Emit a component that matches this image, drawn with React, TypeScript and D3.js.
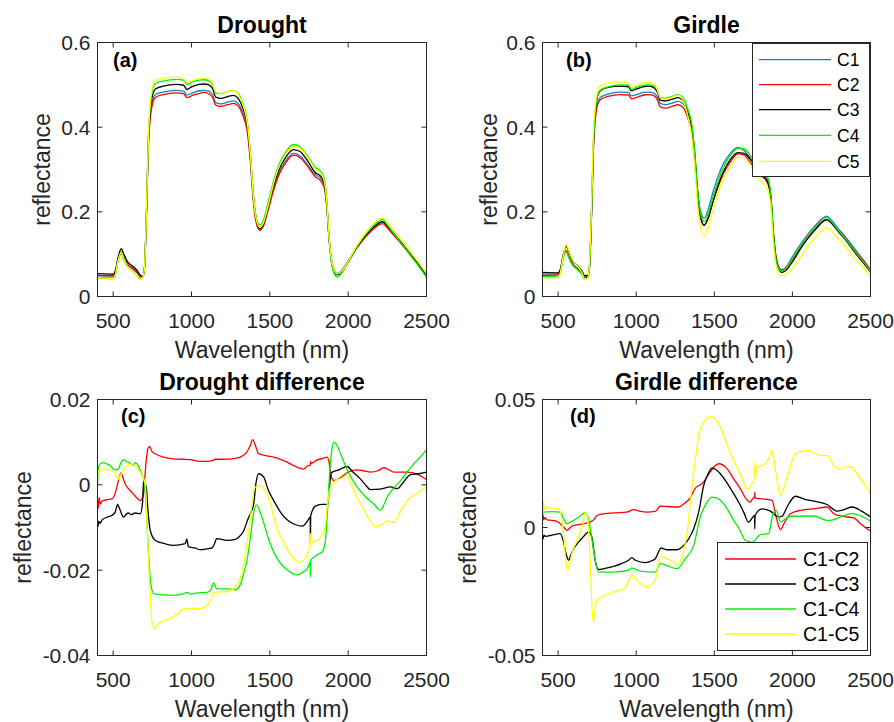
import React from "react";
import * as d3 from "d3";

const FONT = "'Liberation Sans', Arial, Helvetica, sans-serif";
const INK = "#262626";

type Pt = [number, number];

// ---------- data ----------
const wavelengths = [400,500,515,530,552,568,590,620,650,672,690,700,712,726,748,770,820,900,950,970,1000,1050,1080,1110,1135,1155,1190,1230,1268,1300,1330,1355,1375,1392,1410,1435,1460,1490,1525,1560,1600,1650,1690,1740,1790,1825,1848,1862,1878,1900,1930,1960,2000,2060,2140,2220,2250,2290,2340,2400,2450,2500];

const droughtC1 = [0.046,0.046,0.056,0.085,0.106,0.092,0.076,0.066,0.056,0.044,0.047,0.068,0.190,0.370,0.458,0.477,0.483,0.487,0.485,0.476,0.480,0.486,0.487,0.485,0.476,0.458,0.455,0.459,0.462,0.455,0.432,0.400,0.330,0.245,0.188,0.163,0.174,0.212,0.258,0.295,0.320,0.338,0.333,0.312,0.288,0.279,0.262,0.222,0.140,0.075,0.054,0.062,0.085,0.120,0.155,0.176,0.166,0.148,0.127,0.100,0.078,0.053];
const droughtC2 = [0.050,0.049,0.058,0.085,0.103,0.092,0.077,0.068,0.059,0.048,0.049,0.068,0.184,0.362,0.450,0.470,0.477,0.481,0.479,0.470,0.474,0.480,0.482,0.479,0.470,0.452,0.449,0.453,0.456,0.449,0.425,0.392,0.321,0.235,0.179,0.156,0.167,0.205,0.252,0.289,0.315,0.334,0.329,0.308,0.283,0.273,0.256,0.216,0.135,0.073,0.053,0.060,0.082,0.117,0.152,0.172,0.162,0.145,0.124,0.097,0.076,0.052];
const droughtC3 = [0.054,0.053,0.062,0.090,0.113,0.100,0.083,0.073,0.063,0.051,0.047,0.068,0.192,0.379,0.470,0.490,0.497,0.501,0.499,0.489,0.495,0.501,0.502,0.500,0.491,0.471,0.468,0.472,0.475,0.467,0.443,0.408,0.336,0.250,0.189,0.160,0.172,0.213,0.262,0.301,0.328,0.347,0.343,0.321,0.293,0.284,0.267,0.227,0.140,0.072,0.051,0.058,0.081,0.119,0.156,0.177,0.167,0.149,0.127,0.098,0.075,0.050];
const droughtC4 = [0.044,0.042,0.052,0.081,0.101,0.086,0.071,0.061,0.051,0.041,0.046,0.068,0.196,0.386,0.482,0.503,0.509,0.513,0.511,0.501,0.506,0.511,0.512,0.510,0.500,0.481,0.479,0.484,0.487,0.479,0.453,0.417,0.343,0.254,0.193,0.169,0.181,0.224,0.274,0.313,0.340,0.359,0.354,0.332,0.305,0.295,0.277,0.236,0.137,0.066,0.046,0.056,0.082,0.121,0.159,0.182,0.169,0.149,0.126,0.096,0.072,0.045];
const droughtC5 = [0.044,0.043,0.053,0.083,0.104,0.089,0.072,0.061,0.052,0.041,0.046,0.068,0.196,0.387,0.489,0.511,0.515,0.518,0.514,0.505,0.509,0.515,0.516,0.513,0.503,0.483,0.480,0.484,0.486,0.477,0.451,0.413,0.338,0.248,0.189,0.163,0.175,0.215,0.268,0.308,0.335,0.355,0.351,0.329,0.301,0.291,0.272,0.229,0.142,0.076,0.053,0.060,0.083,0.123,0.163,0.186,0.175,0.157,0.134,0.104,0.080,0.054];

const girdleC1 = [0.053,0.053,0.062,0.090,0.108,0.094,0.078,0.068,0.058,0.046,0.048,0.065,0.170,0.350,0.450,0.470,0.478,0.483,0.482,0.474,0.477,0.482,0.483,0.481,0.472,0.456,0.453,0.457,0.461,0.455,0.432,0.400,0.335,0.255,0.205,0.185,0.205,0.245,0.285,0.315,0.337,0.352,0.345,0.322,0.298,0.288,0.272,0.240,0.155,0.085,0.062,0.070,0.094,0.128,0.165,0.190,0.180,0.162,0.141,0.112,0.088,0.062];
const girdleC2 = [0.050,0.051,0.060,0.089,0.109,0.095,0.078,0.067,0.057,0.044,0.046,0.063,0.168,0.347,0.446,0.465,0.473,0.477,0.476,0.467,0.470,0.476,0.477,0.475,0.465,0.448,0.445,0.449,0.453,0.446,0.422,0.387,0.320,0.239,0.188,0.168,0.186,0.223,0.260,0.291,0.316,0.337,0.334,0.312,0.287,0.277,0.261,0.229,0.146,0.081,0.063,0.067,0.088,0.121,0.158,0.182,0.174,0.157,0.137,0.109,0.087,0.063];
const girdleC3 = [0.057,0.056,0.065,0.095,0.119,0.107,0.086,0.074,0.062,0.049,0.050,0.068,0.175,0.361,0.466,0.486,0.494,0.497,0.495,0.486,0.490,0.496,0.497,0.494,0.483,0.464,0.462,0.466,0.470,0.462,0.436,0.402,0.335,0.251,0.196,0.168,0.184,0.222,0.264,0.296,0.322,0.340,0.338,0.320,0.291,0.281,0.265,0.234,0.150,0.081,0.057,0.062,0.082,0.117,0.155,0.181,0.173,0.155,0.134,0.104,0.081,0.058];
const girdleC4 = [0.047,0.047,0.057,0.086,0.106,0.092,0.075,0.064,0.053,0.040,0.044,0.064,0.174,0.359,0.467,0.487,0.495,0.500,0.499,0.490,0.494,0.499,0.500,0.498,0.488,0.470,0.468,0.473,0.477,0.469,0.443,0.409,0.339,0.254,0.201,0.177,0.195,0.233,0.274,0.306,0.332,0.350,0.349,0.328,0.302,0.291,0.274,0.239,0.149,0.079,0.060,0.067,0.090,0.124,0.161,0.187,0.177,0.158,0.136,0.107,0.084,0.060];
const girdleC5 = [0.044,0.046,0.057,0.090,0.123,0.109,0.088,0.073,0.059,0.040,0.044,0.073,0.190,0.387,0.478,0.497,0.504,0.507,0.504,0.493,0.498,0.505,0.506,0.503,0.490,0.468,0.466,0.471,0.475,0.463,0.427,0.380,0.307,0.220,0.166,0.143,0.162,0.202,0.245,0.279,0.304,0.329,0.328,0.305,0.274,0.263,0.245,0.211,0.127,0.066,0.049,0.052,0.067,0.098,0.137,0.162,0.155,0.138,0.117,0.090,0.069,0.049];

const droughtDiffC1C2: Pt[] = [[400,-0.004],[405,-0.0055],[410,-0.003],[418,-0.0045],[430,-0.0038],[460,-0.0035],[492,-0.0033],[513,-0.002],[530,0.0005],[549,0.0028],[560,0.002],[577,0.0002],[600,-0.001],[619,-0.0017],[650,-0.003],[673,-0.0037],[694,-0.002],[703,0.002],[711,0.0057],[722,0.0085],[732,0.009],[748,0.0078],[768,0.0073],[820,0.0065],[886,0.0061],[950,0.006],[992,0.0059],[1050,0.0055],[1099,0.0055],[1130,0.0056],[1152,0.006],[1200,0.006],[1260,0.0061],[1312,0.0065],[1354,0.0077],[1375,0.0092],[1390,0.0106],[1405,0.0095],[1429,0.0073],[1480,0.0068],[1525,0.0065],[1600,0.0055],[1652,0.0045],[1716,0.0037],[1745,0.0045],[1758,0.0045],[1759,0.0055],[1762,0.005],[1800,0.0058],[1840,0.0062],[1865,0.0065],[1876,0.0057],[1892,0.002],[1908,0.001],[1940,0.0014],[2000,0.003],[2057,0.0035],[2100,0.0033],[2142,0.003],[2190,0.0033],[2228,0.004],[2260,0.0035],[2291,0.003],[2377,0.003],[2440,0.0025],[2500,0.0012]];
const droughtDiffC1C3: Pt[] = [[400,-0.009],[403,-0.0098],[408,-0.0085],[415,-0.009],[430,-0.0082],[460,-0.0076],[490,-0.0072],[513,-0.0064],[528,-0.0046],[540,-0.0055],[566,-0.0076],[585,-0.0068],[598,-0.0066],[615,-0.007],[640,-0.0066],[673,-0.0068],[688,-0.004],[694,0.001],[700,0.0005],[711,-0.0005],[722,-0.006],[737,-0.0107],[768,-0.013],[830,-0.0138],[886,-0.0142],[960,-0.0138],[970,-0.0127],[980,-0.0145],[1020,-0.0148],[1056,-0.0152],[1100,-0.015],[1131,-0.0148],[1150,-0.0135],[1160,-0.0126],[1226,-0.013],[1280,-0.0128],[1301,-0.0123],[1330,-0.011],[1365,-0.0076],[1385,-0.006],[1397,-0.0045],[1412,0.0005],[1429,0.0026],[1461,0.0018],[1490,-0.0012],[1525,-0.0037],[1570,-0.0065],[1610,-0.0082],[1660,-0.0093],[1706,-0.0097],[1740,-0.0085],[1758,-0.0076],[1759,-0.0137],[1761,-0.0072],[1791,-0.005],[1830,-0.0046],[1870,-0.0046],[1882,0.0],[1891,0.0028],[1940,0.0035],[1993,0.0043],[2030,0.003],[2078,0.0014],[2110,0.0],[2142,-0.0011],[2200,-0.001],[2270,-0.0005],[2313,-0.0009],[2350,0.0005],[2398,0.0024],[2450,0.0026],[2500,0.003]];
const droughtDiffC1C4: Pt[] = [[400,0.0],[404,0.003],[410,0.0045],[420,0.005],[440,0.0052],[460,0.0049],[480,0.0045],[502,0.0037],[520,0.0035],[534,0.0038],[550,0.0052],[566,0.0059],[590,0.0054],[609,0.005],[625,0.0045],[641,0.0052],[660,0.0045],[673,0.0034],[690,0.0018],[698,0.001],[712,-0.006],[726,-0.0162],[740,-0.023],[758,-0.0255],[820,-0.0258],[886,-0.0259],[950,-0.0255],[975,-0.0252],[992,-0.0256],[1040,-0.0253],[1099,-0.0252],[1125,-0.0245],[1141,-0.023],[1160,-0.0243],[1184,-0.0244],[1240,-0.0244],[1280,-0.0246],[1310,-0.0235],[1333,-0.0208],[1355,-0.0175],[1376,-0.0123],[1395,-0.007],[1414,-0.0047],[1435,-0.006],[1450,-0.0076],[1490,-0.0125],[1525,-0.0158],[1570,-0.0185],[1610,-0.0199],[1674,-0.0211],[1710,-0.0205],[1738,-0.0197],[1758,-0.0181],[1759,-0.0216],[1761,-0.0178],[1780,-0.017],[1810,-0.0162],[1833,-0.0158],[1855,-0.013],[1870,-0.005],[1883,0.0034],[1895,0.008],[1908,0.01],[1925,0.0095],[1951,0.0073],[2000,0.003],[2057,-0.0005],[2110,-0.0028],[2164,-0.0045],[2206,-0.006],[2230,-0.0045],[2249,-0.0029],[2290,-0.0008],[2334,0.001],[2380,0.0032],[2419,0.0049],[2460,0.0065],[2500,0.0082]];
const droughtDiffC1C5: Pt[] = [[400,0.0018],[405,0.0034],[415,0.0032],[430,0.0038],[460,0.0037],[490,0.0033],[513,0.0026],[530,0.0012],[545,0.0022],[566,0.0034],[590,0.0045],[605,0.0048],[630,0.0045],[651,0.0041],[683,0.0022],[705,0.0002],[715,-0.008],[726,-0.0177],[747,-0.0318],[762,-0.0338],[780,-0.033],[800,-0.0322],[850,-0.0315],[886,-0.0309],[920,-0.03],[950,-0.0291],[1000,-0.029],[1056,-0.029],[1090,-0.0285],[1109,-0.0279],[1130,-0.0265],[1141,-0.0252],[1180,-0.0251],[1226,-0.025],[1280,-0.024],[1310,-0.022],[1333,-0.0185],[1355,-0.0135],[1376,-0.0076],[1395,-0.002],[1408,-0.0005],[1440,-0.0002],[1460,-0.0008],[1482,-0.0021],[1515,-0.006],[1546,-0.0103],[1580,-0.0128],[1610,-0.015],[1650,-0.0172],[1684,-0.0181],[1727,-0.0173],[1750,-0.0152],[1758,-0.0142],[1759,-0.0114],[1761,-0.0137],[1780,-0.0133],[1802,-0.013],[1830,-0.0118],[1850,-0.0103],[1870,-0.004],[1887,-0.0005],[1920,0.001],[1951,0.0014],[1993,0.0022],[2020,0.0],[2057,-0.0029],[2095,-0.0055],[2132,-0.008],[2174,-0.0099],[2205,-0.0095],[2249,-0.0084],[2270,-0.0087],[2291,-0.0088],[2330,-0.0065],[2377,-0.0037],[2440,-0.002],[2500,-0.0005]];

const girdleDiffC1C2: Pt[] = [[400,0.0034],[403,0.005],[408,0.003],[415,0.0038],[430,0.003],[460,0.0028],[492,0.0024],[535,0.0002],[556,-0.0011],[588,0.0005],[641,0.0012],[684,0.0018],[716,0.0025],[735,0.0035],[748,0.0047],[770,0.0051],[855,0.0057],[940,0.006],[983,0.007],[1020,0.0064],[1069,0.006],[1122,0.0063],[1154,0.0083],[1200,0.0082],[1271,0.008],[1310,0.0095],[1346,0.0116],[1380,0.0155],[1400,0.0164],[1421,0.0171],[1474,0.0217],[1500,0.0238],[1528,0.0249],[1581,0.023],[1624,0.019],[1667,0.0151],[1700,0.0115],[1726,0.0099],[1750,0.0115],[1758,0.0119],[1759,0.0138],[1761,0.0115],[1805,0.0112],[1870,0.0106],[1891,0.0054],[1923,-0.0008],[1950,0.002],[1987,0.0054],[2060,0.0068],[2137,0.0073],[2222,0.008],[2265,0.0054],[2310,0.0045],[2350,0.0041],[2393,0.0038],[2436,0.0015],[2500,-0.0014]];
const girdleDiffC1C3: Pt[] = [[400,-0.0037],[403,-0.0045],[410,-0.003],[420,-0.0035],[460,-0.003],[513,-0.0024],[535,-0.0057],[550,-0.01],[567,-0.0128],[580,-0.011],[599,-0.0083],[620,-0.0065],[641,-0.005],[670,-0.003],[695,-0.0018],[716,-0.0037],[737,-0.0128],[759,-0.0164],[800,-0.016],[855,-0.0152],[910,-0.014],[951,-0.0128],[972,-0.0118],[994,-0.0128],[1058,-0.0137],[1100,-0.013],[1122,-0.0122],[1140,-0.01],[1158,-0.008],[1197,-0.0087],[1261,-0.0087],[1290,-0.0078],[1314,-0.0063],[1340,-0.004],[1368,-0.0005],[1400,0.006],[1432,0.0164],[1460,0.021],[1485,0.0232],[1539,0.021],[1580,0.0175],[1624,0.0132],[1660,0.0095],[1688,0.006],[1720,0.0021],[1740,0.0035],[1758,0.0047],[1759,-0.0005],[1761,0.0047],[1805,0.0073],[1859,0.0064],[1912,0.0041],[1934,0.0044],[1970,0.0085],[2019,0.0122],[2080,0.011],[2137,0.0103],[2222,0.009],[2286,0.0064],[2330,0.007],[2382,0.008],[2440,0.0065],[2500,0.0041]];
const girdleDiffC1C4: Pt[] = [[400,0.006],[460,0.0062],[513,0.006],[535,0.0035],[556,0.0015],[599,0.0028],[641,0.0044],[673,0.0058],[695,0.0034],[710,-0.002],[727,-0.0089],[759,-0.0174],[855,-0.0174],[951,-0.0167],[972,-0.0159],[1026,-0.017],[1122,-0.0174],[1154,-0.0141],[1200,-0.015],[1261,-0.0161],[1314,-0.0122],[1368,-0.007],[1410,0.0041],[1450,0.0095],[1485,0.0119],[1539,0.0106],[1580,0.0075],[1624,0.0028],[1660,-0.0005],[1699,-0.005],[1742,-0.0057],[1795,-0.0028],[1848,-0.0024],[1876,0.0054],[1897,0.0067],[1923,0.0022],[1987,0.0044],[2137,0.0045],[2222,0.0028],[2260,0.003],[2308,0.0041],[2382,0.0054],[2440,0.0045],[2500,0.0025]];
const girdleDiffC1C5: Pt[] = [[400,0.0093],[403,0.006],[407,0.01],[412,0.007],[420,0.008],[449,0.0076],[480,0.0072],[502,0.0074],[535,-0.0024],[548,-0.012],[560,-0.0167],[575,-0.014],[588,-0.0102],[610,-0.0065],[630,-0.0037],[655,0.001],[673,0.0057],[688,0.0041],[705,-0.0128],[718,-0.032],[727,-0.0368],[738,-0.032],[748,-0.0284],[780,-0.0271],[855,-0.0252],[930,-0.0235],[955,-0.0205],[972,-0.0184],[1015,-0.0213],[1069,-0.0232],[1100,-0.022],[1122,-0.0206],[1154,-0.0115],[1218,-0.0128],[1271,-0.0144],[1300,-0.01],[1325,-0.0024],[1350,0.012],[1378,0.0262],[1410,0.0386],[1450,0.0425],[1481,0.0435],[1510,0.042],[1539,0.0392],[1592,0.0308],[1645,0.0236],[1680,0.019],[1709,0.0151],[1740,0.017],[1758,0.0197],[1759,0.0255],[1761,0.02],[1774,0.0236],[1827,0.0249],[1850,0.027],[1870,0.0301],[1885,0.025],[1902,0.0184],[1923,0.0125],[1966,0.0197],[2019,0.0288],[2094,0.0301],[2179,0.0281],[2222,0.0281],[2275,0.0236],[2320,0.0228],[2350,0.0238],[2380,0.0235],[2414,0.021],[2460,0.017],[2500,0.0132]];

const xTicks = [500, 1000, 1500, 2000, 2500];
const spectraYTicks = [0, 0.2, 0.4, 0.6];
const droughtDiffYTicks = [-0.04, -0.02, 0, 0.02];
const girdleDiffYTicks = [-0.05, 0, 0.05];
const classNames = ["C1", "C2", "C3", "C4", "C5"];
const diffNames = ["C1-C2", "C1-C3", "C1-C4", "C1-C5"];
const classColors = ["#1A80C8", "#FF0000", "#000000", "#00F000", "#FFFF00"];
const diffColors = ["#FF0000", "#000000", "#00F000", "#FFFF00"];

// ---------- components ----------
interface LineSpec { name: string; color: string; points: Pt[] }
interface LegendSpec { x: number; y: number; w: number; h: number; rowY: number[]; lineX0: number; lineX1: number; textX: number; fontSize: number; items: { name: string; color: string }[] }

function Panel(props: {
  id: string; left: number; right: number; top: number; bottom: number;
  yDomain: [number, number]; yTicks: number[]; lines: LineSpec[];
  title: string; tag: string; tagX: number; tagY: number; ylabelX: number;
  legend?: LegendSpec;
}) {
  const { left, right, top, bottom } = props;
  const x = d3.scaleLinear().domain([400, 2500]).range([left, right]);
  const y = d3.scaleLinear().domain(props.yDomain).range([bottom, top]);
  const line = d3.line<Pt>().x(d => x(d[0])).y(d => y(d[1])).curve(d3.curveMonotoneX);
  const cx = (left + right) / 2;
  const cy = (top + bottom) / 2;
  const tl = 5;
  const lg = props.legend;
  return (
    <g>
      <clipPath id={`clip-${props.id}`}>
        <rect x={left} y={top} width={right - left} height={bottom - top} />
      </clipPath>
      <g clipPath={`url(#clip-${props.id})`}>
        {props.lines.map(l => (
          <path key={l.name} d={line(l.points) || ""} fill="none" stroke={l.color} strokeWidth={1.3} strokeLinejoin="round" />
        ))}
      </g>
      <rect x={left} y={top} width={right - left} height={bottom - top} fill="none" stroke={INK} strokeWidth={1} />
      {xTicks.map(t => (
        <g key={`x${t}`}>
          <line x1={x(t)} x2={x(t)} y1={bottom} y2={bottom - tl} stroke={INK} />
          <line x1={x(t)} x2={x(t)} y1={top} y2={top + tl} stroke={INK} />
          <text x={x(t)} y={bottom + 31.5} textAnchor="middle" fontSize={21} fill={INK} fontFamily={FONT}>{t}</text>
        </g>
      ))}
      {props.yTicks.map(t => (
        <g key={`y${t}`}>
          <line x1={left} x2={left + tl} y1={y(t)} y2={y(t)} stroke={INK} />
          <line x1={right} x2={right - tl} y1={y(t)} y2={y(t)} stroke={INK} />
          <text x={left - 7} y={y(t) + 7.5} textAnchor="end" fontSize={21} fill={INK} fontFamily={FONT}>{String(t)}</text>
        </g>
      ))}
      <text x={cx} y={bottom + 61.5} textAnchor="middle" fontSize={23} fill={INK} fontFamily={FONT}>Wavelength (nm)</text>
      <text transform={`translate(${props.ylabelX},${cy}) rotate(-90)`} textAnchor="middle" fontSize={23} fill={INK} fontFamily={FONT}>reflectance</text>
      <text x={cx} y={top - 9.5} textAnchor="middle" fontSize={23} fontWeight="bold" fill="#000" fontFamily={FONT}>{props.title}</text>
      <text x={props.tagX} y={props.tagY} fontSize={20} fontWeight="bold" fill="#000" fontFamily={FONT}>{props.tag}</text>
      {lg && (
        <g>
          <rect x={lg.x} y={lg.y} width={lg.w} height={lg.h} fill="#fff" stroke={INK} strokeWidth={1} />
          {lg.items.map((it, i) => (
            <g key={it.name}>
              <line x1={lg.lineX0} x2={lg.lineX1} y1={lg.rowY[i]} y2={lg.rowY[i]} stroke={it.color} strokeWidth={1.3} />
              <text x={lg.textX} y={lg.rowY[i] + lg.fontSize * 0.36} fontSize={lg.fontSize} fill="#000" fontFamily={FONT}>{it.name}</text>
            </g>
          ))}
        </g>
      )}
    </g>
  );
}

export default function App() {
  const droughtSpectra = [droughtC1, droughtC2, droughtC3, droughtC4, droughtC5];
  const girdleSpectra = [girdleC1, girdleC2, girdleC3, girdleC4, girdleC5];
  const toLines = (sets: number[][]): LineSpec[] =>
    sets.map((vals, i) => ({ name: classNames[i], color: classColors[i], points: d3.zip(wavelengths, vals) as Pt[] }));
  const diffLines = (sets: Pt[][]): LineSpec[] =>
    sets.map((pts, i) => ({ name: diffNames[i], color: diffColors[i], points: pts }));

  return (
    <svg width={894} height={722} style={{ position: "absolute", left: 0, top: 0, background: "#fff" }}>
      <rect x={0} y={0} width={894} height={722} fill="#fff" />
      <Panel id="a" left={97.5} right={426.5} top={42.5} bottom={296.5} yDomain={[0, 0.6]} yTicks={spectraYTicks}
        lines={toLines(droughtSpectra)} title="Drought" tag="(a)" tagX={113} tagY={66.5} ylabelX={50} />
      <Panel id="b" left={542.5} right={870.5} top={42.5} bottom={296.5} yDomain={[0, 0.6]} yTicks={spectraYTicks}
        lines={toLines(girdleSpectra)} title="Girdle" tag="(b)" tagX={566} tagY={66.5} ylabelX={497}
        legend={{ x: 752.5, y: 43.5, w: 117, h: 133, rowY: [59.7, 84.7, 109.7, 135.3, 161.3], lineX0: 759, lineX1: 831, textX: 837, fontSize: 17.5,
          items: classNames.map((n, i) => ({ name: n, color: classColors[i] })) }} />
      <Panel id="c" left={97.5} right={426.5} top={399.5} bottom={655.5} yDomain={[-0.04, 0.02]} yTicks={droughtDiffYTicks}
        lines={diffLines([droughtDiffC1C2, droughtDiffC1C3, droughtDiffC1C4, droughtDiffC1C5])} title="Drought difference" tag="(c)" tagX={121} tagY={423} ylabelX={31} />
      <Panel id="d" left={542.5} right={870.5} top={399.5} bottom={655.5} yDomain={[-0.05, 0.05]} yTicks={girdleDiffYTicks}
        lines={diffLines([girdleDiffC1C2, girdleDiffC1C3, girdleDiffC1C4, girdleDiffC1C5])} title="Girdle difference" tag="(d)" tagX={570} tagY={423} ylabelX={476}
        legend={{ x: 717.5, y: 542.5, w: 150, h: 108, rowY: [559, 584, 609, 634], lineX0: 725, lineX1: 796, textX: 803, fontSize: 19.5,
          items: diffNames.map((n, i) => ({ name: n, color: diffColors[i] })) }} />
    </svg>
  );
}
